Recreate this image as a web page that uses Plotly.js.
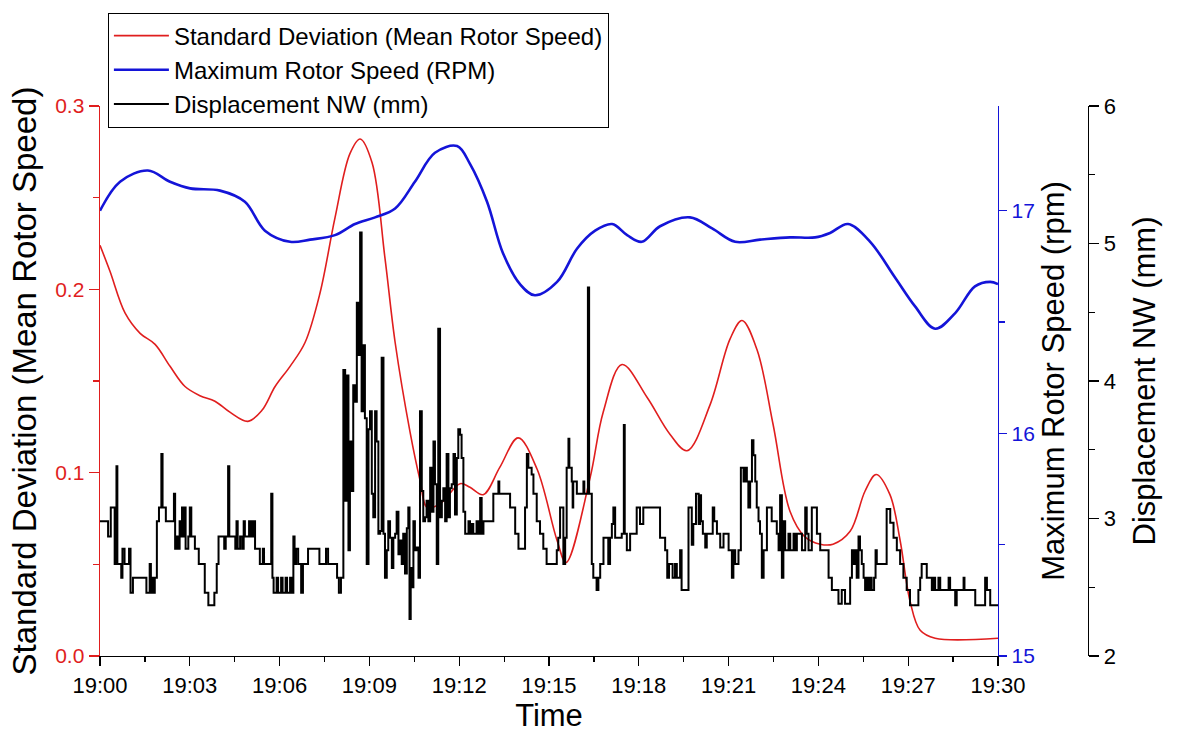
<!DOCTYPE html>
<html>
<head>
<meta charset="utf-8">
<script src="https://cdn.plot.ly/plotly-3.0.1.min.js"></script>
<style>
  html, body { margin: 0; padding: 0; background: #fff; }
  #chart { width: 1177px; height: 733px; }
</style>
</head>
<body>
<div id="chart"></div>
<script>
// ---- Data (time in minutes after 19:00) ----
const xTickVals = [0, 3, 6, 9, 12, 15, 18, 21, 24, 27, 30];
const xTickLabels = ['19:00', '19:03', '19:06', '19:09', '19:12', '19:15', '19:18', '19:21', '19:24', '19:27', '19:30'];

// Standard deviation of mean rotor speed (left axis)
const sdTime = [0, 0.33, 0.84, 1.34, 1.84, 2.34, 2.84, 3.34, 3.84, 4.34, 4.94, 5.41, 5.85, 6.35, 6.85, 7.35, 7.85, 8.35, 8.69, 9.09, 9.52, 9.86, 10.36, 10.69, 10.93, 11.36, 12.03, 12.36, 12.8, 13.36, 13.97, 14.6, 15.27, 15.57, 16.37, 16.81, 17.44, 18.28, 19.04, 19.61, 20.38, 21.05, 21.45, 21.95, 22.49, 23.05, 23.55, 24.06, 24.49, 25.06, 25.56, 25.93, 26.39, 26.73, 27.06, 27.4, 27.9, 30];
const sdValue = [0.224, 0.210, 0.187, 0.176, 0.170, 0.158, 0.147, 0.142, 0.139, 0.133, 0.128, 0.134, 0.147, 0.158, 0.171, 0.198, 0.239, 0.274, 0.282, 0.269, 0.217, 0.171, 0.122, 0.096, 0.081, 0.083, 0.094, 0.092, 0.088, 0.103, 0.119, 0.102, 0.063, 0.051, 0.097, 0.133, 0.159, 0.141, 0.121, 0.112, 0.137, 0.173, 0.183, 0.167, 0.126, 0.079, 0.065, 0.061, 0.061, 0.068, 0.090, 0.099, 0.088, 0.063, 0.030, 0.014, 0.0097, 0.0097];

// Maximum rotor speed (rpm, right axis)
const rpmTime = [0, 0.67, 1.6, 2.34, 3.01, 4.01, 4.84, 5.51, 6.35, 7.02, 7.85, 8.52, 9.19, 9.86, 10.52, 11.19, 11.93, 12.36, 12.93, 13.46, 14.03, 14.53, 15.27, 15.94, 16.54, 17.11, 17.61, 18.1, 18.71, 19.71, 20.45, 21.22, 22.05, 23.05, 23.89, 24.39, 24.99, 25.73, 26.56, 27.23, 27.9, 28.57, 29.23, 29.74, 30];
const rpmValue = [17.00, 17.13, 17.18, 17.13, 17.10, 17.09, 17.04, 16.91, 16.86, 16.87, 16.89, 16.94, 16.97, 17.01, 17.13, 17.26, 17.29, 17.21, 17.04, 16.81, 16.67, 16.62, 16.68, 16.83, 16.91, 16.94, 16.89, 16.86, 16.93, 16.97, 16.92, 16.86, 16.87, 16.88, 16.88, 16.90, 16.94, 16.86, 16.70, 16.57, 16.47, 16.54, 16.66, 16.68, 16.67];

// Displacement NW (mm, second right axis)
const dispTime = [0.00, 0.27, 0.36, 0.49, 0.55, 0.58, 0.71, 0.75, 0.82, 0.97, 1.02, 1.10, 1.55, 1.66, 1.70, 1.74, 1.78, 1.83, 1.90, 1.97, 2.05, 2.09, 2.20, 2.47, 2.51, 2.56, 2.62, 2.66, 2.70, 2.74, 2.78, 2.83, 2.86, 2.95, 3.00, 3.05, 3.17, 3.30, 3.50, 3.62, 3.82, 3.90, 3.96, 4.15, 4.20, 4.28, 4.32, 4.52, 4.56, 4.60, 4.68, 4.75, 4.80, 4.84, 4.98, 5.02, 5.06, 5.10, 5.14, 5.18, 5.34, 5.44, 5.48, 5.68, 5.72, 5.76, 5.80, 5.90, 5.95, 6.05, 6.10, 6.20, 6.25, 6.35, 6.40, 6.46, 6.50, 6.55, 6.62, 6.72, 6.78, 6.95, 7.33, 7.55, 7.62, 7.92, 7.98, 8.05,
  8.13, 8.19, 8.24, 8.30, 8.35, 8.41, 8.46, 8.52, 8.58, 8.63, 8.69, 8.74, 8.80, 8.85, 8.91, 8.97, 9.02, 9.08, 9.13, 9.19, 9.24, 9.30, 9.36, 9.41, 9.47, 9.52, 9.58, 9.63, 9.69, 9.75, 9.80, 9.86, 9.91, 9.97, 10.02, 10.08, 10.13, 10.19, 10.25, 10.30, 10.34, 10.38, 10.41, 10.47, 10.52, 10.58, 10.64, 10.69, 10.75, 10.80, 10.86, 10.91, 10.97, 11.03, 11.08, 11.14, 11.19, 11.25, 11.30, 11.36, 11.42, 11.47, 11.53, 11.58, 11.64, 11.69, 11.75, 11.81, 11.86, 11.92, 11.97, 12.03, 12.08, 12.14, 12.20, 12.31, 12.36, 12.42, 12.47, 12.58, 12.64, 12.70, 12.75, 12.81, 13.14, 13.31, 13.34, 13.70, 13.87, 13.98, 14.20, 14.26, 14.31, 14.42, 14.48, 14.59, 14.70, 14.81, 14.92,
  15.26, 15.31, 15.37, 15.48, 15.54, 15.59, 15.65, 15.68, 15.76, 15.79, 15.81, 15.93, 16.15, 16.18, 16.30, 16.34, 16.37, 16.43, 16.48, 16.59, 16.65, 16.71, 16.82, 16.98, 17.04, 17.10, 17.15, 17.21, 17.43, 17.50, 17.53, 17.60, 17.71, 17.93, 18.04, 18.15, 18.26, 18.71, 18.88, 18.95, 19.01, 19.13, 19.21, 19.27, 19.38, 19.43, 19.66, 19.77, 19.82, 19.91, 20.00,
  20.05, 20.08, 20.14, 20.22, 20.27, 20.47, 20.52, 20.61, 20.72, 20.83, 21.00, 21.11, 21.16, 21.22, 21.33, 21.41, 21.50, 21.55, 21.61, 21.66, 21.72, 21.78, 21.83, 21.89, 21.94, 22.00, 22.05, 22.11, 22.17, 22.28, 22.44, 22.61, 22.67, 22.72, 22.78, 22.83, 22.89, 23.00, 23.06, 23.17, 23.22, 23.28, 23.45, 23.56, 23.61, 23.67, 23.78, 23.95, 24.06, 24.34, 24.45, 24.67, 24.78, 24.89,
  25.06, 25.12, 25.17, 25.23, 25.28, 25.34, 25.39, 25.45, 25.51, 25.56, 25.62, 25.67, 25.73, 25.78, 25.86, 25.91, 25.95, 26.28, 26.40, 26.51, 26.62, 26.73, 26.84, 26.95, 27.06, 27.34, 27.40, 27.45, 27.62, 27.79, 27.84, 27.90, 28.01, 28.07, 28.35, 28.40, 28.57, 28.62, 28.85, 28.88, 29.24, 29.57, 29.63, 29.74, 30.00];
const dispValue = [2.98, 2.87, 3.08, 2.67, 3.38, 2.67, 2.57, 2.78, 2.67, 2.78, 2.46, 2.57, 2.46, 2.67, 2.46, 2.57, 2.46, 2.57, 2.98, 3.08, 3.47, 3.08, 2.98, 3.18, 2.78, 2.87, 2.78, 2.98, 2.87, 3.08, 2.87, 3.08, 2.78, 2.87, 3.08, 2.87, 2.78, 2.67, 2.46, 2.37, 2.46, 2.67, 2.87, 2.78, 2.87, 3.38, 2.87, 2.78, 2.98, 2.78, 2.87, 2.78, 2.98, 2.87, 2.98, 2.87, 2.98, 2.87, 2.98, 2.78, 2.67, 2.78, 2.67, 2.67, 3.18, 2.57, 2.46, 2.57, 2.46, 2.57, 2.46, 2.57, 2.46, 2.57, 2.46, 2.87, 2.67, 2.78, 2.67, 2.46, 2.67, 2.78, 2.67, 2.78, 2.67, 2.57, 2.46, 2.57,
  4.08, 3.13, 4.04, 2.77, 3.56, 3.20, 3.97, 3.85, 4.57, 4.19, 5.08, 3.78, 4.26, 3.73, 2.67, 3.65, 3.78, 3.18, 3.01, 3.78, 3.56, 2.89, 2.91, 4.17, 2.89, 2.57, 2.77, 2.98, 2.86, 2.64, 2.86, 2.89, 3.05, 2.74, 2.84, 2.67, 2.89, 2.60, 2.93, 3.08, 2.27, 2.64, 2.50, 2.98, 2.77, 2.79, 2.57, 3.78, 3.20, 2.98, 3.01, 3.13, 2.98, 3.37, 3.05, 3.56, 3.25, 2.67, 4.38, 3.01, 3.13, 3.22, 2.98, 3.47, 3.01, 3.22, 3.25, 3.47, 3.03, 3.44, 3.65, 3.61, 3.44, 3.05, 2.89, 2.98, 2.89, 2.96, 2.89, 2.98, 2.89, 3.15, 2.89, 2.98, 3.18, 3.27, 3.18, 3.08, 2.89, 2.78, 3.08, 3.47, 3.37, 3.32, 3.18, 2.98, 2.89, 2.78, 2.67,
  2.77, 2.86, 3.08, 2.67, 2.86, 3.37, 3.58, 3.37, 3.27, 3.08, 3.27, 3.18, 3.27, 3.18, 4.68, 3.18, 3.18, 2.67, 2.57, 2.48, 2.57, 2.67, 2.86, 2.67, 2.86, 2.96, 3.08, 2.86, 2.89, 3.68, 2.89, 2.77, 2.89, 3.08, 2.96, 3.08, 3.08, 2.86, 2.77, 2.57, 2.67, 2.57, 2.67, 2.57, 2.77, 2.48, 3.08, 2.81, 2.96, 3.18, 2.96,
  3.17, 2.98, 2.89, 2.79, 2.89, 3.08, 2.98, 2.89, 2.79, 2.89, 2.77, 2.57, 2.77, 2.67, 2.77, 3.37, 3.27, 3.37, 3.27, 3.08, 3.27, 3.57, 3.46, 3.27, 3.08, 2.98, 2.89, 2.57, 2.77, 3.08, 2.98, 2.89, 2.77, 3.17, 2.57, 2.98, 2.77, 2.89, 2.77, 2.89, 2.77, 2.89, 2.77, 3.08, 2.89, 2.77, 3.08, 2.89, 2.77, 2.57, 2.48, 2.38, 2.48, 2.38,
  2.57, 2.77, 2.67, 2.77, 2.57, 2.87, 2.77, 2.67, 2.57, 2.48, 2.57, 2.48, 2.57, 2.48, 2.57, 2.77, 2.67, 3.07, 2.97, 2.86, 2.77, 2.67, 2.57, 2.48, 2.37, 2.48, 2.57, 2.67, 2.57, 2.48, 2.57, 2.48, 2.57, 2.48, 2.57, 2.48, 2.37, 2.48, 2.57, 2.48, 2.37, 2.57, 2.48, 2.37, 2.37];

// ---- Styling ----
const FONT = 'Liberation Sans, Arial, sans-serif';
const RED = '#e01e1e';
const BLUE = '#1414d8';
const BLACK = '#000000';

const traces = [
  { x: sdTime, y: sdValue, type: 'scatter', mode: 'lines', name: 'Standard Deviation (Mean Rotor Speed)',
    line: { color: RED, width: 1.6, shape: 'spline', smoothing: 1 }, yaxis: 'y', legendgroup: 'a' },
  { x: rpmTime, y: rpmValue, type: 'scatter', mode: 'lines', name: 'Maximum Rotor Speed (RPM)',
    line: { color: BLUE, width: 2.6, shape: 'spline', smoothing: 1 }, yaxis: 'y2', legendgroup: 'b' },
  { x: dispTime, y: dispValue, type: 'scatter', mode: 'lines', name: 'Displacement NW (mm)',
    line: { color: BLACK, width: 2, shape: 'hv' }, yaxis: 'y3', legendgroup: 'c' }
];

const plotW = 898, paperW = 988;
const TITLE = 31;
const layout = {
  width: 1177, height: 733,
  margin: { l: 100, r: 89, t: 102, b: 77, pad: 0 },
  paper_bgcolor: '#fff', plot_bgcolor: '#fff',
  font: { family: FONT, size: 22, color: BLACK },
  showlegend: true,
  legend: {
    x: 0.008, y: 1.17, xanchor: 'left', yanchor: 'top',
    bgcolor: '#fff', bordercolor: '#000', borderwidth: 1,
    font: { family: FONT, size: 24, color: BLACK },
    tracegroupgap: 0, traceorder: 'normal', itemwidth: 55
  },
  xaxis: {
    domain: [0, plotW / paperW], range: [0, 30],
    tickvals: xTickVals, ticktext: xTickLabels,
    ticks: 'outside', ticklen: 9, tickwidth: 1.2, tickcolor: BLACK,
    minor: { dtick: 1.5, ticks: 'outside', ticklen: 5, tickcolor: BLACK, tickwidth: 1.2 },
    showline: true, linecolor: BLACK, linewidth: 1.2, showgrid: false, zeroline: false,
    tickfont: { family: FONT, size: 22, color: BLACK },
    title: { text: 'Time', font: { family: FONT, size: TITLE, color: BLACK }, standoff: 2 },
    automargin: false
  },
  yaxis: {
    range: [0, 0.3], tickvals: [0, 0.1, 0.2, 0.3], tickformat: '.1f',
    ticks: 'outside', ticklen: 10, tickwidth: 1.2, tickcolor: RED,
    minor: { dtick: 0.05, ticks: 'outside', ticklen: 6, tickcolor: RED, tickwidth: 1.2 },
    showline: true, linecolor: RED, linewidth: 1.4, showgrid: false, zeroline: false,
    tickfont: { family: FONT, size: 21, color: RED },
    title: { text: 'Standard Deviation (Mean Rotor Speed)', font: { family: FONT, size: 33, color: BLACK }, standoff: 8 },
    automargin: false
  },
  yaxis2: {
    overlaying: 'y', side: 'right', anchor: 'x',
    range: [15, 17.47], tickvals: [15, 16, 17],
    ticks: 'outside', ticklen: 8, tickwidth: 1.2, tickcolor: BLUE,
    minor: { dtick: 0.5, ticks: 'outside', ticklen: 6, tickcolor: BLUE, tickwidth: 1.2 },
    showline: true, linecolor: BLUE, linewidth: 1.4, showgrid: false, zeroline: false,
    tickfont: { family: FONT, size: 21, color: BLUE },
    title: { text: 'Maximum Rotor Speed (rpm)', font: { family: FONT, size: TITLE, color: BLACK }, standoff: 8 },
    automargin: false
  },
  yaxis3: {
    overlaying: 'y', side: 'right', anchor: 'free', position: 1,
    range: [2, 6], tickvals: [2, 3, 4, 5, 6],
    ticks: 'outside', ticklen: 10, tickwidth: 1.2, tickcolor: BLACK,
    minor: { dtick: 0.5, ticks: 'outside', ticklen: 6, tickcolor: BLACK, tickwidth: 1.2 },
    showline: true, linecolor: BLACK, linewidth: 1.4, showgrid: false, zeroline: false,
    tickfont: { family: FONT, size: 22, color: BLACK },
    title: { text: 'Displacement NW (mm)', font: { family: FONT, size: TITLE, color: BLACK }, standoff: 18 },
    automargin: false
  }
};

Plotly.newPlot('chart', traces, layout, { displayModeBar: false, staticPlot: true });
</script>
</body>
</html>
